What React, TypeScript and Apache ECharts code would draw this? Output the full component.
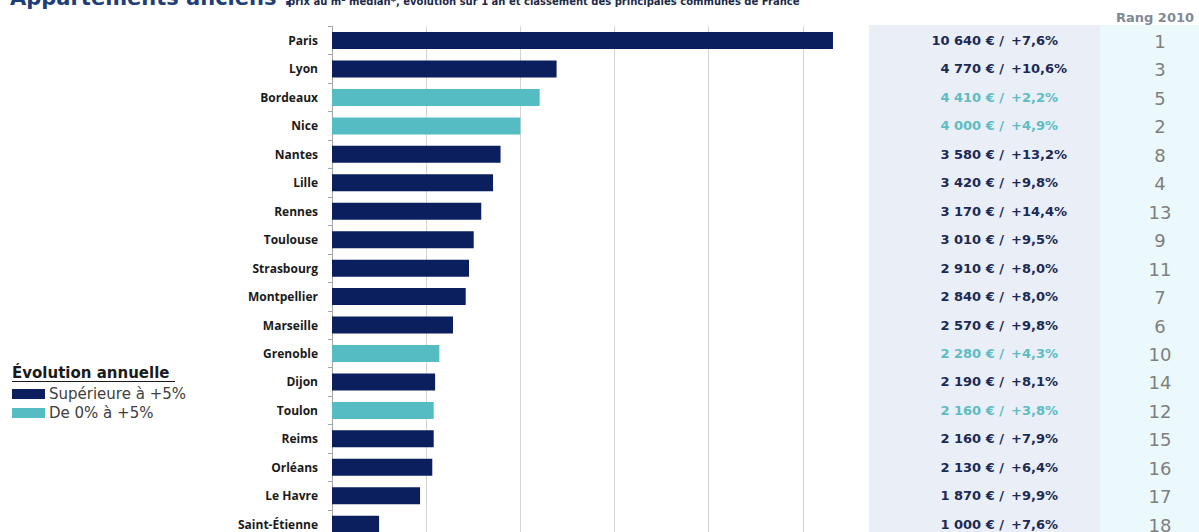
import React, { useEffect, useRef } from "react";
import * as echarts from "echarts";

const cities = ["Paris", "Lyon", "Bordeaux", "Nice", "Nantes", "Lille", "Rennes", "Toulouse", "Strasbourg", "Montpellier", "Marseille", "Grenoble", "Dijon", "Toulon", "Reims", "Orléans", "Le Havre", "Saint-Étienne"];
const prices = [10640, 4770, 4410, 4000, 3580, 3420, 3170, 3010, 2910, 2840, 2570, 2280, 2190, 2160, 2160, 2130, 1870, 1000];
const changes = [7.6, 10.6, 2.2, 4.9, 13.2, 9.8, 14.4, 9.5, 8.0, 8.0, 9.8, 4.3, 8.1, 3.8, 7.9, 6.4, 9.9, 7.6];
const ranks = [1, 3, 5, 2, 8, 4, 13, 9, 11, 7, 6, 10, 14, 12, 15, 16, 17, 18];
const legendLabels = ["Supérieure à +5%", "De 0% à +5%"];

const NAVY = "#0b1f5e";
const TEAL = "#56bcc4";
const NAVY_TXT = "#1b2a55";
const TEAL_TXT = "#5cbdc4";

const fmtPrice = (v: number) => {
  const th = Math.floor(v / 1000);
  const rest = String(v % 1000).padStart(3, "0");
  return `${th} ${rest} € /`;
};
const fmtChange = (c: number) => `+${c.toFixed(1).replace(".", ",")}%`;

export default function App() {
  const ref = useRef<HTMLDivElement>(null);
  useEffect(() => {
    if (!ref.current) return;
    const chart = echarts.init(ref.current, undefined, { renderer: "svg" });
    chart.setOption({
      animation: false,
      backgroundColor: "#ffffff",
      grid: { left: 332, right: 1199 - 897, top: 26.3, bottom: 560 - 538.4, containLabel: false },
      xAxis: {
        type: "value",
        min: 0,
        max: 12000,
        interval: 2000,
        axisLabel: { show: false },
        axisLine: { show: false },
        axisTick: { show: false },
        splitLine: { show: true, lineStyle: { color: "#d4d4d4", width: 1 } },
      },
      yAxis: {
        type: "category",
        data: cities,
        inverse: true,
        axisLine: { show: true, lineStyle: { color: "#a6a6a6", width: 1 } },
        axisTick: { show: true, length: 4, lineStyle: { color: "#a6a6a6" } },
        axisLabel: {
          margin: 14,
          color: "#1a1a1a",
          fontWeight: "bold",
          fontSize: 12,
          fontFamily: "Open Sans",
        },
      },
      series: [
        {
          type: "bar",
          barWidth: 17,
          data: prices.map((v, i) => ({
            value: v,
            itemStyle: { color: changes[i] > 5 ? NAVY : TEAL },
          })),
        },
      ],
    });

    const textEls: any[] = [];
    cities.forEach((c, i) => {
      const y = chart.convertToPixel({ yAxisIndex: 0 }, c) as number;
      const col = changes[i] > 5 ? NAVY_TXT : TEAL_TXT;
      textEls.push({
        type: "text",
        x: 1004,
        y,
        z: 20,
        style: {
          text: fmtPrice(prices[i]),
          align: "right",
          verticalAlign: "middle",
          fill: col,
          font: "bold 13px 'DejaVu Sans'",
        },
      });
      textEls.push({
        type: "text",
        x: 1011,
        y,
        z: 20,
        style: {
          text: fmtChange(changes[i]),
          align: "left",
          verticalAlign: "middle",
          fill: col,
          font: "bold 13px 'DejaVu Sans'",
        },
      });
      textEls.push({
        type: "text",
        x: 1160,
        y: y + 1,
        z: 20,
        style: {
          text: String(ranks[i]),
          align: "center",
          verticalAlign: "middle",
          fill: "#7f7f7f",
          font: "18px 'DejaVu Sans'",
        },
      });
    });

    chart.setOption({
      graphic: [
        { type: "rect", z: 10, shape: { x: 869, y: 25, width: 231, height: 540 }, style: { fill: "#e9eef7" } },
        { type: "rect", z: 10, shape: { x: 1100, y: 25, width: 99, height: 540 }, style: { fill: "#ecf9fc" } },
        {
          type: "text", x: 1116, y: 17, z: 20,
          style: { text: "Rang 2010", align: "left", verticalAlign: "middle", fill: "#808a96", font: "bold 13px 'DejaVu Sans'" },
        },
        {
          type: "text", x: 10, y: -2, z: 20,
          style: { text: "Appartements anciens :", align: "left", verticalAlign: "middle", fill: "#1f3d78", font: "bold 21px 'DejaVu Sans'" },
        },
        {
          type: "text", x: 288, y: 1, z: 20,
          style: { text: "prix au m² médian*, évolution sur 1 an et classement des principales communes de France", align: "left", verticalAlign: "middle", fill: "#1c2a48", font: "bold 10px 'DejaVu Sans'" },
        },
        {
          type: "text", x: 12, y: 373, z: 20,
          style: { text: "Évolution annuelle", align: "left", verticalAlign: "middle", fill: "#1a1a1a", font: "bold 15px 'DejaVu Sans'" },
        },
        { type: "line", z: 20, shape: { x1: 12, y1: 381.5, x2: 175, y2: 381.5 }, style: { stroke: "#1a1a1a", lineWidth: 1 } },
        { type: "rect", z: 20, shape: { x: 12, y: 389, width: 33, height: 10 }, style: { fill: NAVY } },
        { type: "rect", z: 20, shape: { x: 12, y: 408, width: 33, height: 10 }, style: { fill: TEAL } },
        {
          type: "text", x: 49, y: 394, z: 20,
          style: { text: legendLabels[0], align: "left", verticalAlign: "middle", fill: "#404040", font: "15px 'DejaVu Sans'" },
        },
        {
          type: "text", x: 49, y: 413, z: 20,
          style: { text: legendLabels[1], align: "left", verticalAlign: "middle", fill: "#404040", font: "15px 'DejaVu Sans'" },
        },
        ...textEls,
      ],
    });

    return () => chart.dispose();
  }, []);

  return (
    <div style={{ position: "fixed", left: 0, top: 0, width: 1199, height: 532, overflow: "hidden", background: "#fff" }}>
      <div ref={ref} style={{ width: 1199, height: 560 }} />
    </div>
  );
}
